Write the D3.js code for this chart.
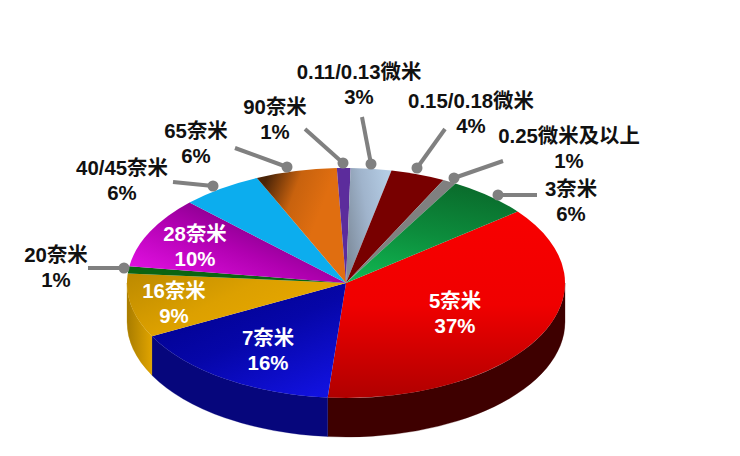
<!DOCTYPE html>
<html>
<head>
<meta charset="utf-8">
<script src="https://cdn.jsdelivr.net/npm/d3@7"></script>
<style>
  html, body { margin: 0; background: #fff; }
  text { font-family: "Liberation Sans", "Noto Sans CJK SC", sans-serif; font-weight: bold; font-size: 20.4px; text-anchor: middle; dominant-baseline: central; }
</style>
</head>
<body>
<div id="chart"></div>
<script>
// Chart values, clockwise from the 5 nm slice
const nodes = ["5奈米", "7奈米", "16奈米", "20奈米", "28奈米", "40/45奈米", "65奈米", "90奈米", "0.11/0.13微米", "0.15/0.18微米", "0.25微米及以上", "3奈米"];
const shares = [37, 16, 9, 1, 10, 6, 6, 1, 3, 4, 1, 6];

// Slice colours, top face and side wall
const topStops = [
  ["#f80000", "#f00000", "#b00000", 0, 0, 0, 1],
  ["#000088", "#0606a8", "#1212e0", 0.1, 0, 0.85, 1],
  ["#bc8a00", "#dca000", "#eaaa00", 0, 0, 1, 0.6],
  ["#0b6412", "#0b6412", "#0b6412", 0, 0, 0, 1],
  ["#e010e0", "#b000b0", "#700078", 0, 0.8, 0.75, 0.1],
  ["#0cadee", "#0cadee", "#0cadee", 0, 0, 0, 1],
  ["#4a2408", "#c8620e", "#e06e10", 0, 0.3, 0.6, 0.6],
  ["#5c2c9c", "#5c2c9c", "#5c2c9c", 0, 0, 0, 1],
  ["#7e8c9c", "#a0b4cc", "#b4cce4", 0, 0.7, 1, 0.3],
  ["#780000", "#780000", "#780000", 0, 0, 0, 1],
  ["#808080", "#808080", "#808080", 0, 0, 0, 1],
  ["#0a6c2c", "#0c8c3c", "#10b450", 0.6, 0, 0.3, 1]
];
const sideColors = ["#3e0000", "#06067c", null, "#0b6412", "#700078", "#0cadee", "#c8620e", "#5c2c9c", "#a0b4cc", "#780000", "#808080", "#0c8c3c"];

// Annotation layout: value labels, and leader [dot x, dot y, end x, end y] where the label sits outside
const labelLayout = [
  { x: 455, y: 301, fill: "#fff" },
  { x: 268, y: 338, fill: "#fff" },
  { x: 174, y: 291, fill: "#fff" },
  { x: 56, y: 255, lead: [124, 268, 88, 268] },
  { x: 195, y: 234, fill: "#fff" },
  { x: 122, y: 168, lead: [213, 186, 173, 182] },
  { x: 196, y: 131, lead: [287, 167, 235, 148] },
  { x: 275, y: 107, lead: [343, 163, 305, 129] },
  { x: 359, y: 72, lead: [371, 164, 362, 117] },
  { x: 471, y: 101, lead: [417, 168, 445, 129] },
  { x: 569, y: 136, lead: [454, 178, 503, 161] },
  { x: 571, y: 189, lead: [498, 195, 537, 195] }
];

const width = 740, height = 456;
const cx = 346, cy = 283, rx = 219, ry = 115, depth = 39;
const startAngle = 51.6 * Math.PI / 180;

const svg = d3.select("#chart").append("svg")
  .attr("width", width)
  .attr("height", height);
const defs = svg.append("defs");

const slices = d3.pie().sort(null)
  .startAngle(startAngle)
  .endAngle(startAngle + 2 * Math.PI)(shares);

// Point on the top ellipse for a pie angle
const px = a => cx + rx * Math.sin(a);
const py = a => cy - ry * Math.cos(a);

topStops.forEach((s, i) => {
  const g = defs.append("linearGradient").attr("id", "top" + i)
    .attr("x1", s[3]).attr("y1", s[4]).attr("x2", s[5]).attr("y2", s[6]);
  g.append("stop").attr("offset", 0).attr("stop-color", s[0]);
  g.append("stop").attr("offset", 0.5).attr("stop-color", s[1]);
  g.append("stop").attr("offset", 1).attr("stop-color", s[2]);
});

// Gold wall lights up towards the slice edge
const goldSide = defs.append("linearGradient").attr("id", "goldSide")
  .attr("x1", 0).attr("y1", 0).attr("x2", 1).attr("y2", 0);
goldSide.append("stop").attr("offset", 0).attr("stop-color", "#a87c00");
goldSide.append("stop").attr("offset", 1).attr("stop-color", "#e0a400");

// Side wall: only the front half of the ellipse shows
const wallMin = Math.PI / 2, wallMax = 3 * Math.PI / 2;
svg.append("g").selectAll("path")
  .data(slices.filter(d => d.startAngle < wallMax && d.endAngle > wallMin))
  .join("path")
  .attr("d", d => {
    const a0 = Math.max(d.startAngle, wallMin), a1 = Math.min(d.endAngle, wallMax);
    return `M${px(a0)},${py(a0)}A${rx},${ry} 0 0 1 ${px(a1)},${py(a1)}` +
      `L${px(a1)},${py(a1) + depth}A${rx},${ry} 0 0 0 ${px(a0)},${py(a0) + depth}Z`;
  })
  .attr("fill", d => sideColors[d.index] || "url(#goldSide)")
  .attr("stroke", d => sideColors[d.index] || "#c89400")
  .attr("stroke-width", 0.3);

// Top face: a flat pie squashed into an ellipse
const arc = d3.arc().innerRadius(0).outerRadius(rx);
svg.append("g")
  .attr("transform", `translate(${cx},${cy}) scale(1,${ry / rx})`)
  .selectAll("path")
  .data(slices)
  .join("path")
  .attr("d", arc)
  .attr("fill", d => `url(#top${d.index})`);

// Leader lines and dots
const leaders = svg.append("g");
labelLayout.forEach(l => {
  if (!l.lead) return;
  const [x1, y1, x2, y2] = l.lead;
  leaders.append("line")
    .attr("x1", x1).attr("y1", y1).attr("x2", x2).attr("y2", y2)
    .attr("stroke", "#808080").attr("stroke-width", 4);
  leaders.append("circle")
    .attr("cx", x1).attr("cy", y1).attr("r", 5.5)
    .attr("fill", "#808080");
});

// Two-line labels: name, then share
const labels = svg.append("g").selectAll("g")
  .data(slices)
  .join("g")
  .attr("fill", d => labelLayout[d.index].fill || "#111");
labels.append("text")
  .attr("x", d => labelLayout[d.index].x)
  .attr("y", d => labelLayout[d.index].y)
  .text(d => nodes[d.index]);
labels.append("text")
  .attr("x", d => labelLayout[d.index].x)
  .attr("y", d => labelLayout[d.index].y + 25)
  .text(d => shares[d.index] + "%");
</script>
</body>
</html>
